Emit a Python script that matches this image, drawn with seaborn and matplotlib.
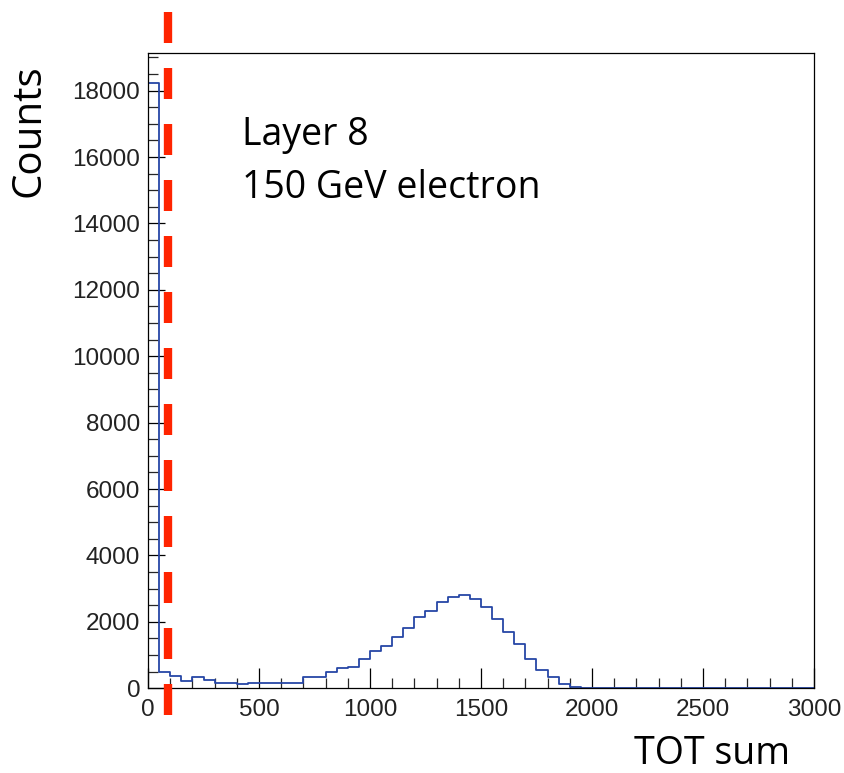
import numpy as np
import pandas as pd
import matplotlib
matplotlib.use("Agg")
import matplotlib.pyplot as plt
import seaborn as sns
from matplotlib.ticker import MultipleLocator

# ---------------- data ----------------
bin_width = 50
bin_left_edges = list(range(0, 3000, 50))
counts = [18230, 480, 370, 230, 330, 250, 170, 170, 120, 170,
          170, 170, 170, 170, 330, 330, 480, 600, 650, 880,
          1130, 1280, 1530, 1830, 2140, 2340, 2590, 2740, 2810, 2690,
          2440, 2090, 1710, 1330, 880, 550, 330, 130, 25, 20] + [0] * 20
cut_value = 90
annotation_lines = ["Layer 8", "150 GeV electron"]
x_label = "TOT sum"
y_label = "Counts"

# ---------------- style ----------------
sns.set_style("ticks")
plt.rcParams["lines.scale_dashes"] = False

W, H = 845, 773
fig = plt.figure(figsize=(W / 100, H / 100), dpi=100)
ax_left, ax_right, ax_top, ax_bottom = 148, 814, 52.7, 688.3
ax = fig.add_axes([ax_left / W, 1 - ax_bottom / H,
                   (ax_right - ax_left) / W, (ax_bottom - ax_top) / H])

df = pd.DataFrame({"x": np.array(bin_left_edges) + bin_width / 2,
                   "w": counts})
edges = list(bin_left_edges) + [bin_left_edges[-1] + bin_width]
sns.histplot(data=df, x="x", weights="w", bins=edges, element="step",
             fill=False, color="#2646a6", linewidth=1.3, ax=ax)

ax.set_xlim(0, 3000)
ymax = max(counts) * 1.05
ax.set_ylim(0, ymax)

# cut line (extends outside the frame)
y_per_px = ymax / (ax_bottom - ax_top)
ax.plot([cut_value, cut_value],
        [(ax_bottom - 12) * y_per_px, (ax_bottom - 716) * y_per_px],
        color="#ff2400", linewidth=6.0, clip_on=False,
        dashes=(31 * 0.72, 25 * 0.72), solid_capstyle="butt",
        dash_capstyle="butt", zorder=5)

for s in ax.spines.values():
    s.set_visible(True)
    s.set_color("black")
    s.set_linewidth(0.9)

ax.xaxis.set_major_locator(MultipleLocator(500))
ax.xaxis.set_minor_locator(MultipleLocator(100))
ax.yaxis.set_major_locator(MultipleLocator(2000))
ax.yaxis.set_minor_locator(MultipleLocator(500))

tick_font = dict(family=["Liberation Sans", "DejaVu Sans"], size=17.5)
ax.tick_params(axis="x", which="major", direction="in", length=14.4,
               width=0.9, pad=7.5, top=False, colors="black")
ax.tick_params(axis="x", which="minor", direction="in", length=7.2,
               width=0.9, top=False)
ax.tick_params(axis="y", which="major", direction="in", length=12.2,
               width=0.9, pad=5.5, right=False, colors="black")
ax.tick_params(axis="y", which="minor", direction="in", length=7.2,
               width=0.9, right=False)
for lab in ax.get_xticklabels() + ax.get_yticklabels():
    lab.set_fontfamily(tick_font["family"])
    lab.set_fontsize(tick_font["size"])
    lab.set_color("#222222")

ax.set_xlabel("")
ax.set_ylabel("")

lab_font = ["Open Sans", "DejaVu Sans"]
fig.text(790 / W, 1 - 764 / H, x_label, ha="right", va="baseline",
         fontsize=27, family=lab_font, color="black")
fig.text(29 / W, 1 - 131 / H, y_label, ha="center", va="center",
         rotation=90, fontsize=29, family=lab_font, color="black")

fig.text(242 / W, 1 - 145 / H, annotation_lines[0], ha="left",
         va="baseline", fontsize=27, family=lab_font, color="black")
fig.text(242 / W, 1 - 198 / H, annotation_lines[1], ha="left",
         va="baseline", fontsize=27, family=lab_font, color="black")

fig.savefig("out.png", dpi=100)
